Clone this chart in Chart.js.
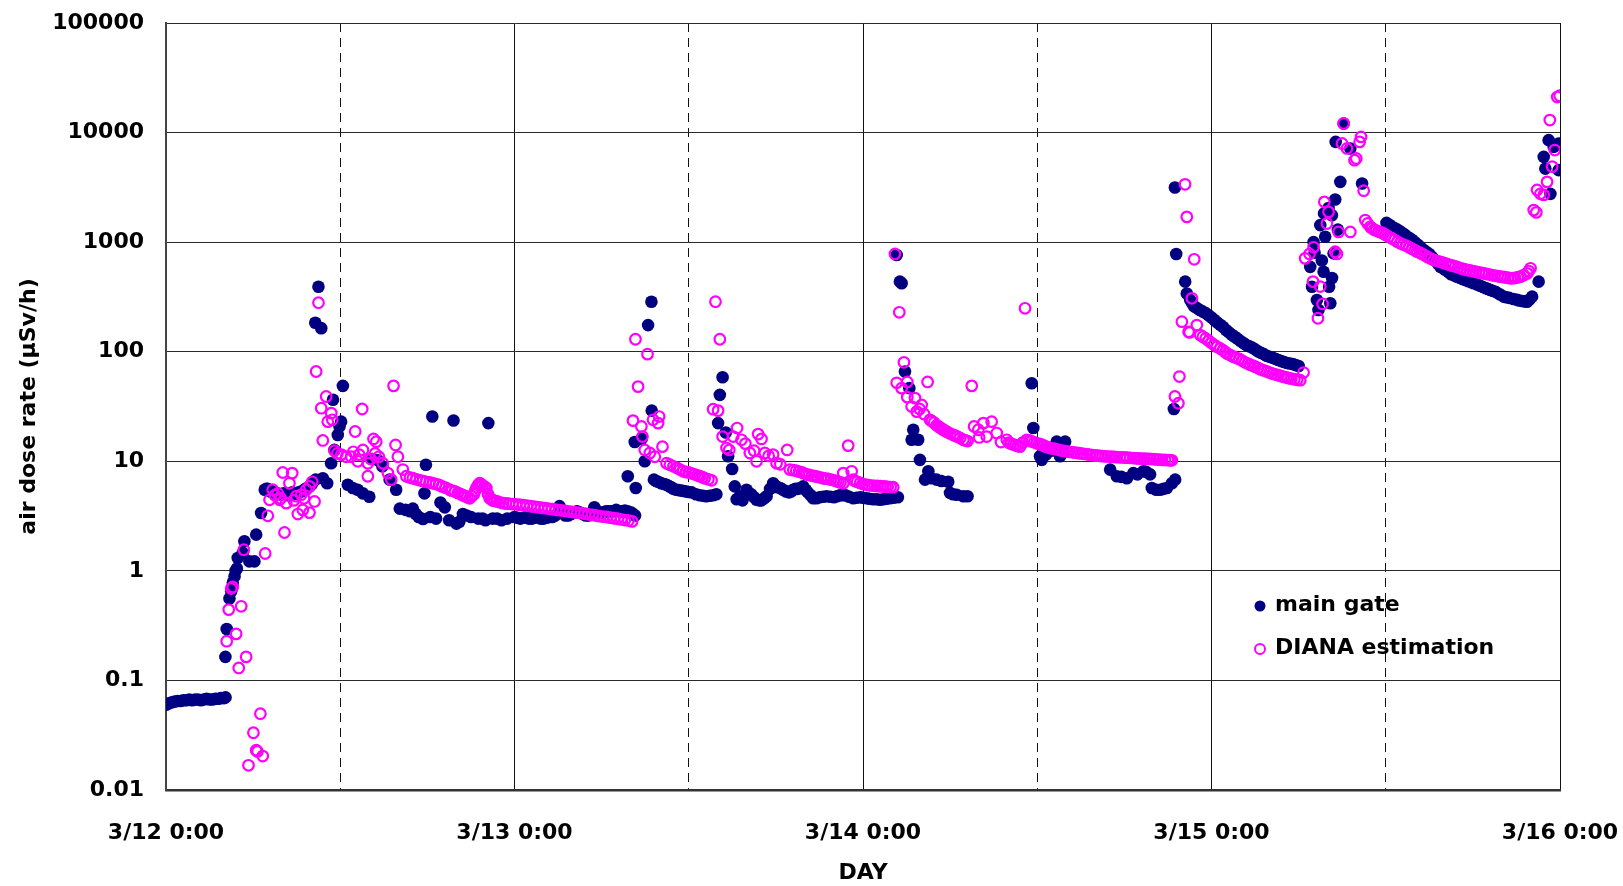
<!DOCTYPE html>
<html>
<head>
<meta charset="utf-8">
<title>air dose rate</title>
<script src="https://cdn.jsdelivr.net/npm/chart.js@4/dist/chart.umd.min.js"></script>
<style>
  body { margin: 0; background: #fff; }
  canvas { display: block; }
</style>
</head>
<body>
<canvas id="dose-chart" width="1623" height="886"></canvas>
<script>
// Day labels on the x axis (hours since 3/12 0:00)
const dayLabels = ['3/12 0:00', '3/13 0:00', '3/14 0:00', '3/15 0:00', '3/16 0:00'];
// Decade ticks on the log y axis
const doseTicks = [0.01, 0.1, 1, 10, 100, 1000, 10000, 100000];
const doseTickLabels = ['0.01', '0.1', '1', '10', '100', '1000', '10000', '100000'];

// main gate measurements [hour, uSv/h]
const mainGate = [
  [0, 0.060], [0.2, 0.062], [0.4, 0.063], [0.6, 0.064], [0.8, 0.065], [1.0, 0.065], [1.2, 0.066], [1.4, 0.066],
  [1.6, 0.067], [1.8, 0.066], [2.0, 0.067], [2.2, 0.067], [2.4, 0.066], [2.6, 0.067], [2.8, 0.068], [3.0, 0.067],
  [3.2, 0.067], [3.4, 0.068], [3.6, 0.068], [3.8, 0.069], [4.0, 0.069], [4.1, 0.070],
  [4.09, 0.164], [4.18, 0.295], [4.37, 0.56], [4.49, 0.65], [4.6, 0.78], [4.72, 0.89], [4.79, 1.0], [4.88, 1.05],
  [4.94, 1.31], [5.29, 1.46], [5.4, 1.86], [5.74, 1.22], [6.09, 1.22], [6.21, 2.14], [6.55, 3.37],
  [6.8, 5.5], [6.9, 5.6], [7.0, 5.6], [7.1, 5.5], [7.2, 5.3], [7.35, 5.2], [7.5, 5.2], [7.65, 5.1], [7.8, 5.0],
  [7.95, 5.0], [8.1, 5.1], [8.25, 5.0], [8.4, 4.9], [8.55, 5.1], [8.7, 5.2], [8.85, 5.1], [9.0, 5.0], [9.15, 5.2],
  [9.3, 5.3], [9.45, 5.4], [9.6, 5.6], [9.75, 5.7], [9.9, 5.9], [10.05, 6.2], [10.3, 6.8], [10.8, 7.0], [11.1, 6.3],
  [10.28, 184], [10.5, 392], [10.69, 164], [11.37, 9.6], [11.5, 36.4], [11.6, 12.7], [11.83, 17.4], [11.95, 20.8],
  [12.06, 23], [12.18, 48.8],
  [12.52, 6.1], [12.86, 5.7], [13.2, 5.5], [13.55, 5.1], [14.0, 4.75], [14.2, 10.5], [14.6, 10.2], [14.9, 9.0],
  [15.4, 6.8], [15.85, 5.5], [16.1, 3.7], [16.5, 3.6], [16.8, 3.5], [17.0, 3.7], [17.2, 3.3], [17.4, 3.1],
  [17.7, 2.97], [17.8, 5.1], [17.9, 9.3], [18.2, 3.1], [18.34, 25.6], [18.6, 3.0], [18.9, 4.2], [19.2, 3.8],
  [19.5, 2.9], [19.8, 23.6], [20.0, 2.7], [20.2, 2.8], [20.45, 3.3], [20.7, 3.2], [21.0, 3.1], [21.5, 3.0],
  [21.8, 3.0], [22.0, 2.9], [22.2, 22.3], [22.5, 3.0], [22.8, 3.0], [23.1, 2.9], [23.5, 3.0],
  [24.0, 3.1], [24.2, 3.05], [24.4, 3.0], [24.6, 3.05], [24.8, 3.1], [25.0, 3.0], [25.2, 3.0], [25.4, 3.05],
  [25.6, 3.1], [25.8, 3.0], [26.0, 3.0], [26.2, 3.05], [26.4, 3.1], [26.6, 3.1], [26.8, 3.2], [27.1, 3.9],
  [27.3, 3.5], [27.5, 3.2], [27.7, 3.2], [27.9, 3.3], [28.1, 3.4], [28.3, 3.5], [28.5, 3.4], [28.7, 3.3],
  [28.9, 3.2], [29.1, 3.2], [29.3, 3.4], [29.5, 3.8], [29.7, 3.5], [29.9, 3.4], [30.1, 3.4], [30.3, 3.5],
  [30.45, 3.5], [30.6, 3.5], [30.8, 3.5], [31.0, 3.6], [31.2, 3.5], [31.4, 3.5], [31.6, 3.55], [31.8, 3.5],
  [32.05, 3.4], [32.15, 3.3], [32.3, 3.2],
  [31.8, 7.3], [32.28, 15], [32.35, 5.7], [32.76, 16], [32.97, 10], [33.2, 175], [33.43, 286], [33.45, 29],
  [33.6, 6.8], [33.75, 6.6], [33.9, 6.5], [34.1, 6.3], [34.3, 6.2], [34.47, 6.1], [34.65, 5.9], [34.8, 5.8],
  [34.95, 5.6], [35.15, 5.5], [35.3, 5.45], [35.5, 5.4], [35.65, 5.35], [35.84, 5.3], [36.0, 5.25], [36.2, 5.2],
  [36.5, 5.0], [36.76, 4.9], [37.0, 4.85], [37.2, 4.8], [37.45, 4.85], [37.68, 4.9], [37.9, 5.0],
  [38.02, 22.3], [38.14, 40.4], [38.33, 58.5], [38.55, 18.3], [38.71, 11.1], [38.99, 8.5], [39.17, 5.9], [39.3, 4.5],
  [39.52, 4.8], [39.7, 4.4], [39.98, 5.5], [40.1, 5.2], [40.3, 5.0], [40.5, 4.7], [40.67, 4.45], [40.85, 4.4],
  [41.0, 4.4], [41.2, 4.6], [41.36, 4.8], [41.6, 5.6], [41.81, 6.3], [41.95, 6.0], [42.1, 5.8], [42.3, 5.7],
  [42.5, 5.5], [42.7, 5.3], [42.9, 5.2], [43.05, 5.3], [43.19, 5.5], [43.35, 5.6], [43.5, 5.6], [43.7, 5.7],
  [43.88, 5.9], [44.05, 5.5], [44.2, 5.2], [44.4, 4.9], [44.57, 4.6], [44.8, 4.6], [45.0, 4.7], [45.25, 4.75],
  [45.49, 4.8], [45.75, 4.75], [46.0, 4.7], [46.2, 4.8], [46.41, 4.9], [46.6, 4.9], [46.8, 4.9], [47.05, 4.75],
  [47.33, 4.6], [47.55, 4.65], [47.8, 4.7], [48.0, 4.65], [48.25, 4.6], [48.45, 4.55], [48.7, 4.5], [48.95, 4.5],
  [49.17, 4.45], [49.4, 4.5], [49.6, 4.55], [49.86, 4.6], [50.1, 4.65], [50.4, 4.7],
  [50.32, 763], [50.54, 436], [50.66, 421], [50.89, 66], [51.19, 46.5], [51.35, 15.7], [51.46, 19.4], [51.8, 15.7],
  [51.92, 10.3], [52.27, 6.8], [52.5, 8.1], [52.7, 7.0], [53.07, 6.8], [53.4, 6.6], [53.87, 6.5], [53.99, 5.15],
  [54.2, 5.0], [54.45, 4.95], [54.91, 4.8], [55.2, 4.8],
  [59.62, 51.6], [59.73, 20.1], [60.19, 11.1], [60.31, 10.3], [60.6, 11.5], [61.0, 12.5], [61.34, 15.1], [61.57, 11.1],
  [61.8, 12], [61.92, 15.1],
  [65.02, 8.4], [65.48, 7.3], [65.8, 7.2], [66.17, 7.0], [66.62, 7.8], [66.9, 7.6], [67.31, 8.1], [67.5, 8.0],
  [67.77, 7.6], [67.89, 5.7], [68.2, 5.5], [68.46, 5.5], [68.7, 5.6], [68.93, 5.7], [69.27, 6.3], [69.41, 30],
  [69.48, 3150], [69.5, 6.8], [69.57, 780],
  [70.19, 436], [70.3, 340], [70.53, 297], [70.65, 280], [70.8, 260], [71.0, 250], [71.2, 240], [71.4, 232],
  [71.6, 225], [71.8, 215], [72.0, 205], [72.2, 195], [72.4, 185], [72.6, 176], [72.8, 168], [73.0, 158],
  [73.2, 150], [73.4, 143], [73.6, 137], [73.8, 131], [74.0, 125], [74.2, 120], [74.4, 115], [74.6, 112],
  [74.8, 109], [75.0, 105], [75.2, 101], [75.4, 98], [75.6, 95], [75.8, 92], [76.0, 90], [76.2, 88],
  [76.4, 86], [76.6, 84], [76.8, 82], [77.0, 80.5], [77.2, 79], [77.4, 78], [77.6, 77], [77.8, 75.5], [78.0, 74],
  [78.8, 595], [78.92, 392], [79.03, 1000], [79.1, 800], [79.26, 296], [79.37, 240], [79.49, 1430], [79.6, 680],
  [79.72, 537], [79.75, 1830], [79.83, 1120], [80.06, 2050], [80.18, 277], [80.1, 392], [80.29, 1760], [80.3, 470],
  [80.41, 790], [80.52, 2450], [80.55, 8220], [80.7, 1300], [80.87, 3550], [81.1, 12100], [81.56, 7160], [82.37, 3430],
  [84.05, 1500], [84.25, 1440], [84.43, 1380], [84.6, 1340], [84.8, 1300], [85.0, 1250], [85.2, 1200], [85.35, 1160],
  [85.47, 1120], [85.65, 1085], [85.8, 1050], [86.0, 1000], [86.2, 950], [86.4, 900], [86.61, 847], [86.8, 812],
  [87.0, 780], [87.2, 730], [87.4, 680], [87.6, 635], [87.76, 597], [87.95, 578], [88.1, 560], [88.3, 535],
  [88.5, 510], [88.7, 497], [88.91, 484], [89.1, 472], [89.3, 460], [89.5, 450], [89.7, 440], [89.9, 430],
  [90.06, 421], [90.3, 410], [90.5, 400], [90.7, 390], [90.9, 380], [91.05, 373], [91.21, 366], [91.4, 358],
  [91.6, 350], [91.85, 334], [92.12, 318], [92.3, 314], [92.5, 310], [92.8, 303], [93.05, 297], [93.2, 293],
  [93.4, 290], [93.55, 288], [93.73, 286], [93.9, 300], [94.08, 318], [94.53, 436],
  [94.88, 6000], [94.99, 4690], [95.22, 8530], [95.34, 2760], [95.57, 7400], [95.91, 7960], [95.91, 4540]
];

// DIANA estimation [hour, uSv/h]
const dianaEstimation = [
  [4.18, 0.228], [4.32, 0.443], [4.49, 0.69], [4.6, 0.713], [4.83, 0.266], [5.01, 0.130], [5.18, 0.475], [5.36, 1.56],
  [5.52, 0.164], [5.68, 0.0168], [6.02, 0.0333], [6.21, 0.0231], [6.3, 0.0225], [6.5, 0.0497], [6.66, 0.0204],
  [6.83, 1.44], [7.01, 3.18], [7.13, 4.45], [7.35, 5.5], [7.5, 4.9], [7.7, 5.1], [7.82, 4.45], [7.9, 4.6],
  [8.04, 7.9], [8.16, 2.24], [8.28, 4.15], [8.5, 6.3], [8.69, 7.8], [8.8, 4.4], [8.97, 4.8], [9.08, 3.3],
  [9.31, 4.95], [9.42, 3.6], [9.5, 4.6], [9.66, 5.5], [9.88, 3.4], [9.88, 5.9], [10.07, 6.5], [10.23, 4.3],
  [10.34, 66], [10.5, 280], [10.69, 30.5], [10.8, 15.5], [11.03, 39], [11.14, 23], [11.38, 27.5], [11.45, 23.9],
  [11.6, 12.5], [11.8, 11.8], [12.07, 11.5], [12.41, 11], [12.76, 11], [12.9, 12.2], [13.03, 18.7], [13.21, 10],
  [13.3, 11.5], [13.51, 30], [13.56, 12.7], [13.9, 9.6], [13.9, 7.3], [14.1, 10.5], [14.29, 16], [14.4, 11.8],
  [14.48, 15.1], [14.66, 11], [14.93, 9.6], [15.28, 7.8], [15.51, 6.8], [15.67, 48.8], [15.81, 14.1], [15.97, 11],
  [16.31, 8.4], [16.55, 7.3], [16.8, 7.1], [17.0, 7.0], [17.25, 6.85], [17.5, 6.7], [17.7, 6.6], [17.9, 6.5],
  [18.15, 6.4], [18.38, 6.3], [18.6, 6.2], [18.8, 6.1], [19.0, 5.9], [19.25, 5.75], [19.53, 5.5], [19.7, 5.4],
  [19.9, 5.3], [20.1, 5.15], [20.3, 5.0], [20.45, 4.9], [20.6, 4.8], [20.75, 4.7], [20.91, 4.6], [21.05, 4.8],
  [21.2, 5.0], [21.3, 5.4], [21.4, 5.8], [21.5, 6.1], [21.6, 6.3], [21.7, 6.2], [21.8, 6.0], [21.95, 5.85],
  [22.06, 5.7], [22.18, 5.0], [22.29, 4.6], [22.4, 4.5], [22.5, 4.4], [22.65, 4.35], [22.8, 4.3], [23.0, 4.22],
  [23.2, 4.15], [23.4, 4.12], [23.6, 4.1], [23.85, 4.07],
  [24.1, 4.05], [24.35, 4.01], [24.6, 3.97], [24.85, 3.93], [25.1, 3.89], [25.35, 3.85], [25.6, 3.81], [25.85, 3.77],
  [26.1, 3.73], [26.35, 3.7], [26.6, 3.66], [26.85, 3.62], [27.1, 3.58], [27.35, 3.55], [27.6, 3.51], [27.85, 3.47],
  [28.1, 3.43], [28.35, 3.4], [28.6, 3.36], [28.85, 3.32], [29.1, 3.28], [29.35, 3.24], [29.6, 3.2], [29.85, 3.16],
  [30.1, 3.13], [30.35, 3.1], [30.6, 3.06], [30.85, 3.02], [31.1, 2.99], [31.35, 2.95], [31.6, 2.91], [31.85, 2.88],
  [32.1, 2.83],
  [32.16, 23.5], [32.33, 130], [32.51, 48], [32.74, 20.8], [32.81, 16.8], [32.97, 12.7], [33.16, 95], [33.32, 11.9],
  [33.54, 23.9], [33.66, 11], [33.89, 22.3], [33.96, 25.6], [34.19, 13.6], [34.47, 9.6], [34.7, 9.3], [34.95, 9.0],
  [35.2, 8.7], [35.4, 8.4], [35.61, 8.1], [35.8, 8.0], [36.0, 7.9], [36.2, 7.75], [36.4, 7.6], [36.6, 7.45],
  [36.76, 7.3], [36.95, 7.15], [37.1, 7.0], [37.35, 6.85], [37.57, 6.7],
  [37.68, 29.9], [37.84, 286], [38.02, 29], [38.14, 130], [38.33, 16.8], [38.6, 13.2], [38.79, 12.7], [39.06, 16.8],
  [39.33, 20.1], [39.63, 15.7], [39.9, 14.5], [40.21, 11.9], [40.5, 12.5], [40.67, 10], [40.78, 17.7], [41.01, 16],
  [41.24, 11.9], [41.5, 11.2], [41.81, 11.5], [42.05, 9.6], [42.3, 9.4], [42.78, 12.7], [42.96, 8.4], [43.2, 8.3],
  [43.4, 8.2], [43.6, 8.05], [43.8, 7.9], [43.95, 7.75], [44.11, 7.6], [44.3, 7.5], [44.5, 7.4], [44.7, 7.3],
  [44.9, 7.2], [45.1, 7.1], [45.26, 7.0], [45.45, 6.95], [45.6, 6.9], [45.8, 6.8], [46.0, 6.7], [46.15, 6.6],
  [46.3, 6.5], [46.45, 6.4], [46.64, 6.3], [46.64, 7.8], [46.98, 13.9], [47.22, 8.1], [47.33, 6.8], [47.45, 6.6],
  [47.6, 6.5], [47.8, 6.35], [48.0, 6.2], [48.25, 6.1], [48.4, 6.05], [48.6, 6.0], [48.8, 5.97], [49.0, 5.95],
  [49.2, 5.92], [49.39, 5.9], [49.55, 5.87], [49.7, 5.85], [49.9, 5.82], [50.08, 5.8],
  [50.2, 780], [50.32, 52], [50.5, 229], [50.66, 46.5], [50.82, 80], [51.05, 53], [51.05, 38.5], [51.35, 31.6],
  [51.58, 37.7], [51.7, 28.4], [51.9, 30], [52.04, 32.7], [52.2, 27], [52.45, 53], [52.61, 23.9], [52.75, 23.2],
  [52.9, 22.5], [53.07, 21.3], [53.2, 20.8], [53.3, 20.3], [53.42, 19.8], [53.53, 19.4], [53.65, 19.0], [53.8, 18.5],
  [54.0, 17.9], [54.22, 17.4], [54.35, 17.1], [54.5, 16.8], [54.7, 16.3], [54.91, 15.7], [55.05, 15.5], [55.2, 15.3],
  [55.49, 48.8], [55.65, 20.8], [55.94, 19.4], [56.0, 16.5], [56.29, 22.3], [56.52, 16.8], [56.86, 23], [57.21, 18.1],
  [57.5, 15.0], [57.9, 15.7], [58.05, 14.8], [58.2, 14.5], [58.35, 14.2], [58.5, 14.0], [58.65, 13.8], [58.81, 13.6],
  [59.0, 14.8], [59.16, 249], [59.28, 15.7], [59.45, 15.5], [59.6, 15.2], [59.8, 14.9], [59.96, 14.6], [60.15, 14.4],
  [60.3, 14.2], [60.45, 13.9], [60.6, 13.6], [60.75, 13.4], [60.88, 13.2], [61.05, 13.1], [61.2, 13.0], [61.4, 12.8],
  [61.6, 12.6], [61.8, 12.45], [62.03, 12.3], [62.2, 12.2], [62.4, 12.1], [62.6, 12.0], [62.8, 11.9], [63.0, 11.8],
  [63.18, 11.7], [63.4, 11.6], [63.6, 11.5], [63.8, 11.4], [64.0, 11.3], [64.15, 11.25], [64.33, 11.2], [64.5, 11.15],
  [64.7, 11.1], [64.9, 11.05], [65.1, 11.0], [65.3, 10.95], [65.48, 10.9], [65.7, 10.87], [65.9, 10.85], [66.05, 10.82],
  [66.2, 10.8], [66.4, 10.75], [66.62, 10.7], [66.8, 10.65], [67.0, 10.6], [67.2, 10.57], [67.4, 10.55], [67.6, 10.52],
  [67.77, 10.5], [68.0, 10.45], [68.2, 10.4], [68.4, 10.35], [68.6, 10.3], [68.8, 10.28], [69.0, 10.25], [69.15, 10.22],
  [69.27, 10.2],
  [69.48, 39], [69.72, 33.9], [69.79, 59.3], [69.96, 188], [70.18, 3370], [70.3, 1700], [70.42, 152], [70.49, 150],
  [70.65, 307], [70.81, 697], [70.99, 175], [71.22, 142], [71.4, 137], [71.6, 132], [71.8, 126], [72.0, 120],
  [72.2, 115], [72.37, 111], [72.6, 107], [72.8, 103], [72.95, 99], [73.1, 96], [73.3, 93], [73.51, 90],
  [73.7, 88], [73.9, 86], [74.1, 83], [74.3, 80], [74.5, 78], [74.66, 76], [74.85, 74.5], [75.0, 73],
  [75.2, 71], [75.4, 69], [75.6, 67.5], [75.81, 66], [76.0, 64.5], [76.2, 63], [76.4, 62], [76.6, 61],
  [76.8, 60], [76.96, 59], [77.15, 58.2], [77.3, 57.5], [77.5, 56.8], [77.7, 56], [77.9, 55.5], [78.11, 55],
  [78.34, 64.5],
  [78.45, 711], [78.75, 780], [78.99, 436], [79.03, 897], [79.33, 202], [79.49, 393], [79.65, 273], [79.77, 2330],
  [79.95, 1480], [80.06, 1890], [80.52, 818], [80.64, 780], [80.75, 1240], [80.99, 7950], [81.1, 12100], [81.33, 7160],
  [81.56, 1240], [81.85, 5600], [81.97, 5800], [82.2, 8220], [82.3, 9130], [82.48, 2950],
  [82.59, 1590], [82.75, 1480], [82.93, 1380], [83.05, 1340], [83.2, 1300], [83.35, 1275], [83.5, 1250], [83.7, 1225],
  [83.85, 1200], [84.0, 1160], [84.2, 1120], [84.4, 1085], [84.6, 1050], [84.8, 1010], [85.0, 975], [85.2, 950],
  [85.4, 930], [85.6, 900], [85.8, 870], [86.0, 845], [86.15, 818], [86.35, 800], [86.5, 780], [86.7, 755],
  [86.9, 730], [87.1, 708], [87.3, 687], [87.5, 676], [87.7, 665], [87.9, 652], [88.1, 640], [88.3, 628],
  [88.45, 618], [88.6, 610], [88.8, 600], [89.0, 588], [89.2, 575], [89.4, 566], [89.6, 557], [89.8, 551],
  [90.0, 545], [90.2, 537], [90.4, 530], [90.6, 524], [90.75, 519], [90.9, 514], [91.1, 508], [91.3, 501],
  [91.5, 495], [91.7, 490], [91.9, 484], [92.05, 481], [92.2, 478], [92.4, 473], [92.59, 468], [92.75, 469],
  [92.9, 472], [93.1, 478], [93.28, 484], [93.5, 500], [93.74, 519], [93.85, 545], [93.97, 577],
  [94.19, 1960], [94.37, 1870], [94.42, 2990], [94.65, 2760], [94.88, 2700], [95.11, 3550], [95.3, 13000], [95.46, 4890],
  [95.64, 6920], [95.81, 21100], [95.98, 21700]
];

const FONT = 'DejaVu Sans';
const NAVY = '#000080';
const MAGENTA = '#ff00ff';

function toPoints(list) {
  return list.map(p => ({ x: p[0], y: p[1] }));
}

// Legend drawn inside the plot, bottom right
const insideLegend = {
  id: 'insideLegend',
  afterDraw(chart) {
    const ctx = chart.ctx;
    ctx.save();
    ctx.font = 'bold 22px "' + FONT + '"';
    ctx.fillStyle = '#000';
    ctx.textBaseline = 'middle';
    ctx.textAlign = 'left';

    ctx.beginPath();
    ctx.arc(1260, 606, 5.5, 0, Math.PI * 2);
    ctx.fillStyle = NAVY;
    ctx.fill();
    ctx.fillStyle = '#000';
    ctx.fillText(chart.data.datasets[1].label, 1275, 605);

    ctx.beginPath();
    ctx.arc(1260, 649, 5, 0, Math.PI * 2);
    ctx.lineWidth = 2;
    ctx.strokeStyle = MAGENTA;
    ctx.stroke();
    ctx.fillText(chart.data.datasets[0].label, 1275, 648);
    ctx.restore();
  }
};

document.addEventListener('DOMContentLoaded', function () {
  const canvas = document.getElementById('dose-chart');
  new Chart(canvas, {
    type: 'scatter',
    data: {
      datasets: [{
        label: 'DIANA estimation',
        data: toPoints(dianaEstimation),
        pointRadius: 5.3,
        pointBorderWidth: 2.2,
        pointBackgroundColor: 'rgba(0,0,0,0)',
        pointBorderColor: MAGENTA,
        order: 1
      }, {
        label: 'main gate',
        data: toPoints(mainGate),
        pointRadius: 6.3,
        pointBorderWidth: 0,
        pointBackgroundColor: NAVY,
        pointBorderColor: NAVY,
        order: 2
      }]
    },
    options: {
      responsive: false,
      animation: false,
      layout: { padding: { top: 23, right: 63, left: 0, bottom: 0 } },
      plugins: {
        legend: { display: false },
        tooltip: { enabled: false }
      },
      scales: {
        x: {
          type: 'linear',
          min: 0,
          max: 96,
          afterBuildTicks: scale => {
            const ticks = [];
            for (let h = 0; h <= 96; h += 12) ticks.push({ value: h });
            scale.ticks = ticks;
          },
          afterFit: scale => {
            scale.height = 96;
            scale.paddingLeft = 0;
            scale.paddingRight = 0;
          },
          ticks: {
            autoSkip: false,
            maxRotation: 0,
            padding: 30,
            color: '#000',
            font: { family: FONT, size: 22, weight: 'bold' },
            callback: value => value % 24 === 0 ? dayLabels[value / 24] : ''
          },
          grid: {
            color: '#111',
            lineWidth: 1,
            drawTicks: false
          },
          border: {
            color: '#333',
            width: 2.5,
            dash: c => (c.tick && c.tick.value % 24 !== 0) ? [9, 6] : []
          },
          title: {
            display: true,
            text: 'DAY',
            color: '#000',
            font: { family: FONT, size: 22, weight: 'bold' },
            padding: { top: 0, bottom: 0 }
          }
        },
        y: {
          type: 'logarithmic',
          min: 0.01,
          max: 100000,
          afterBuildTicks: scale => {
            scale.ticks = doseTicks.map(v => ({ value: v }));
          },
          afterFit: scale => {
            scale.width = 166;
            scale.paddingTop = 0;
            scale.paddingBottom = 0;
          },
          ticks: {
            padding: 22,
            color: '#000',
            font: { family: FONT, size: 22, weight: 'bold' },
            callback: (value, index) => doseTickLabels[index]
          },
          grid: {
            color: '#2a2a2a',
            lineWidth: 1,
            drawTicks: false
          },
          border: { color: '#444', width: 2 },
          title: {
            display: true,
            text: 'air dose rate (µSv/h)',
            color: '#000',
            font: { family: FONT, size: 22, weight: 'bold' },
            padding: { top: 16, bottom: 0 }
          }
        }
      }
    },
    plugins: [insideLegend]
  });
});
</script>
</body>
</html>
